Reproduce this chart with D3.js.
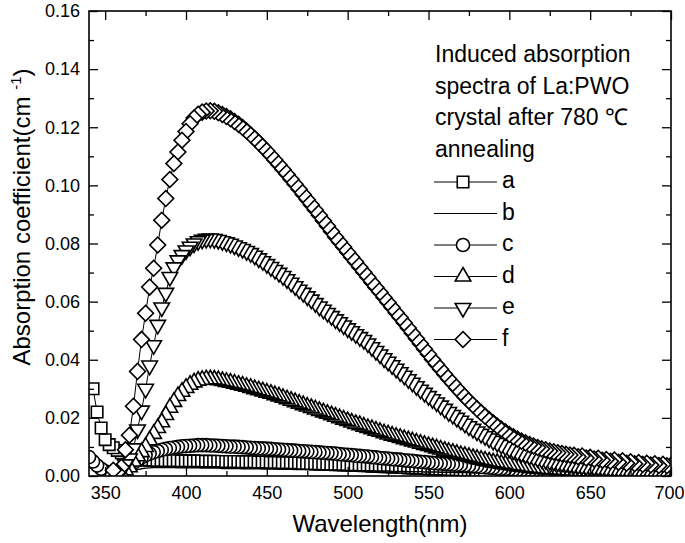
<!DOCTYPE html>
<html lang="en">
<head>
<meta charset="utf-8">
<title>Induced absorption spectra of La:PWO</title>
<script src="https://cdn.jsdelivr.net/npm/d3@7/dist/d3.min.js"></script>
<style>
  body { margin: 0; background: #fff; }
  text { font-family: "Liberation Sans", Arial, sans-serif; fill: #000; }
</style>
</head>
<body>
<div id="chart"></div>
<script>
// wavelength grid (nm)
const wavelengths = [
  340, 342.5, 345, 347.5, 350, 352.5, 355, 357.5,
  360, 362.5, 365, 367.5, 370, 372.5, 375, 377.5,
  380, 382.5, 385, 387.5, 390, 392.5, 395, 397.5,
  400, 402.5, 405, 407.5, 410, 412.5, 415, 417.5,
  420, 422.5, 425, 427.5, 430, 432.5, 435, 437.5,
  440, 442.5, 445, 447.5, 450, 452.5, 455, 457.5,
  460, 462.5, 465, 467.5, 470, 472.5, 475, 477.5,
  480, 482.5, 485, 487.5, 490, 492.5, 495, 497.5,
  500, 502.5, 505, 507.5, 510, 512.5, 515, 517.5,
  520, 522.5, 525, 527.5, 530, 532.5, 535, 537.5,
  540, 542.5, 545, 547.5, 550, 552.5, 555, 557.5,
  560, 562.5, 565, 567.5, 570, 572.5, 575, 577.5,
  580, 582.5, 585, 587.5, 590, 592.5, 595, 597.5,
  600, 602.5, 605, 607.5, 610, 612.5, 615, 617.5,
  620, 622.5, 625, 627.5, 630, 632.5, 635, 637.5,
  640, 642.5, 645, 647.5, 650, 652.5, 655, 657.5,
  660, 662.5, 665, 667.5, 670, 672.5, 675, 677.5,
  680, 682.5, 685, 687.5, 690, 692.5, 695, 697.5,
  700
];

// absorption coefficient (cm-1), same order as wavelengths
const seriesA = [
  null, 0.0300, 0.0220, 0.0165, 0.0125, 0.0108, 0.0097, 0.0088,
  0.0080, 0.0072, 0.0066, 0.0061, 0.0058, 0.0056, 0.0055, 0.0054,
  0.0054, 0.0053, 0.0053, 0.0053, 0.0053, 0.0052, 0.0052, 0.0052,
  0.0052, 0.0052, 0.0052, 0.0051, 0.0051, 0.0051, 0.0051, 0.0051,
  0.0050, 0.0050, 0.0050, 0.0050, 0.0049, 0.0049, 0.0049, 0.0049,
  0.0048, 0.0048, 0.0048, 0.0047, 0.0047, 0.0047, 0.0046, 0.0046,
  0.0046, 0.0045, 0.0045, 0.0044, 0.0044, 0.0043, 0.0043, 0.0042,
  0.0042, 0.0041, 0.0041, 0.0040, 0.0040, 0.0039, 0.0039, 0.0038,
  0.0038, 0.0037, 0.0037, 0.0036, 0.0035, 0.0035, 0.0034, 0.0034,
  0.0033, 0.0032, 0.0032, 0.0031, 0.0030, 0.0030, 0.0029, 0.0028,
  0.0028, 0.0027, 0.0026, 0.0026, 0.0025, 0.0024, 0.0024, 0.0023,
  0.0022, 0.0022, 0.0021, 0.0020, 0.0020, 0.0019, 0.0018, 0.0018
];

const seriesB = [
  null, null, null, null, null, null, null, null,
  null, 0.0005, 0.0012, 0.0018, 0.0022, 0.0025, 0.0027, 0.0028,
  0.0029, 0.0029, 0.0029, 0.0029, 0.0029, 0.0029, 0.0028, 0.0028,
  0.0028, 0.0028, 0.0028, 0.0028, 0.0027, 0.0027, 0.0027, 0.0027,
  0.0027, 0.0026, 0.0026, 0.0026, 0.0026, 0.0026, 0.0025, 0.0025,
  0.0025, 0.0025, 0.0025, 0.0024, 0.0024, 0.0024, 0.0024, 0.0023,
  0.0023, 0.0023, 0.0023, 0.0022, 0.0022, 0.0022, 0.0022, 0.0021,
  0.0021, 0.0021, 0.0021, 0.0020, 0.0020, 0.0020, 0.0020, 0.0019,
  0.0019, 0.0019, 0.0019, 0.0018, 0.0018, 0.0018, 0.0018, 0.0017,
  0.0017, 0.0017, 0.0017, 0.0016, 0.0016, 0.0016, 0.0016, 0.0015,
  0.0015, 0.0015, 0.0015, 0.0014, 0.0014, 0.0014, 0.0014, 0.0013,
  0.0013, 0.0013, 0.0013, 0.0012, 0.0012, 0.0012, 0.0012, 0.0011,
  0.0011, 0.0011, 0.0011, 0.0010, 0.0010, 0.0010, 0.0010, 0.0010
];

const seriesC = [
  0.0065, 0.0050, 0.0036, 0.0025, 0.0016, 0.0010, 0.0008, 0.0010,
  0.0015, 0.0024, 0.0034, 0.0045, 0.0055, 0.0064, 0.0071, 0.0077,
  0.0082, 0.0086, 0.0090, 0.0093, 0.0096, 0.0098, 0.0100, 0.0102,
  0.0103, 0.0104, 0.0105, 0.0106, 0.0106, 0.0106, 0.0105, 0.0105,
  0.0104, 0.0103, 0.0102, 0.0101, 0.0101, 0.0100, 0.0099, 0.0098,
  0.0097, 0.0096, 0.0095, 0.0095, 0.0094, 0.0093, 0.0092, 0.0091,
  0.0090, 0.0089, 0.0088, 0.0087, 0.0086, 0.0085, 0.0084, 0.0083,
  0.0082, 0.0081, 0.0080, 0.0079, 0.0078, 0.0077, 0.0075, 0.0074,
  0.0073, 0.0072, 0.0070, 0.0069, 0.0068, 0.0067, 0.0065, 0.0064,
  0.0062, 0.0061, 0.0060, 0.0058, 0.0057, 0.0056, 0.0054, 0.0053,
  0.0052, 0.0050, 0.0049, 0.0048, 0.0046, 0.0045, 0.0044, 0.0043,
  0.0042, 0.0041, 0.0040, 0.0039, 0.0038, 0.0036, 0.0035, 0.0034,
  0.0033, 0.0031, 0.0030, 0.0029, 0.0028, 0.0026, 0.0025, 0.0024,
  0.0023, 0.0022, 0.0021, 0.0020, 0.0019, 0.0018, 0.0017, 0.0016
];

const seriesD = [
  null, null, null, null, null, null, null, null,
  0.0010, 0.0020, 0.0030, 0.0050, 0.0068, 0.0082, 0.0100, 0.0123,
  0.0145, 0.0165, 0.0185, 0.0210, 0.0235, 0.0255, 0.0275, 0.0290,
  0.0303, 0.0314, 0.0322, 0.0328, 0.0331, 0.0333, 0.0333, 0.0332,
  0.0330, 0.0327, 0.0324, 0.0321, 0.0318, 0.0314, 0.0311, 0.0307,
  0.0303, 0.0299, 0.0295, 0.0291, 0.0287, 0.0283, 0.0278, 0.0274,
  0.0269, 0.0264, 0.0259, 0.0254, 0.0249, 0.0244, 0.0239, 0.0234,
  0.0229, 0.0224, 0.0219, 0.0214, 0.0209, 0.0204, 0.0199, 0.0194,
  0.0189, 0.0184, 0.0179, 0.0175, 0.0170, 0.0165, 0.0161, 0.0156,
  0.0152, 0.0147, 0.0143, 0.0139, 0.0135, 0.0131, 0.0127, 0.0123,
  0.0119, 0.0115, 0.0111, 0.0107, 0.0103, 0.0099, 0.0095, 0.0091,
  0.0087, 0.0083, 0.0080, 0.0076, 0.0072, 0.0069, 0.0066, 0.0062,
  0.0059, 0.0056, 0.0053, 0.0050, 0.0047, 0.0045, 0.0042, 0.0040,
  0.0038, 0.0036, 0.0034, 0.0032, 0.0030, 0.0028, 0.0027, 0.0025,
  0.0024, 0.0023, 0.0022, 0.0021, 0.0020, 0.0019, 0.0018, 0.0017,
  0.0016, 0.0016, 0.0015, 0.0015, 0.0014, 0.0014, 0.0013, 0.0013,
  0.0012, 0.0012, 0.0012, 0.0011, 0.0011, 0.0011, 0.0010, 0.0010,
  0.0010, 0.0010, 0.0009, 0.0009, 0.0009, 0.0009, 0.0008, 0.0008,
  0.0008
];

const seriesE = [
  null, null, null, null, null, null, null, null,
  0.0020, 0.0040, 0.0060, 0.0095, 0.0160, 0.0225, 0.0300, 0.0380,
  0.0450, 0.0520, 0.0580, 0.0630, 0.0685, 0.0718, 0.0742, 0.0760,
  0.0776, 0.0789, 0.0800, 0.0808, 0.0813, 0.0816, 0.0817, 0.0815,
  0.0812, 0.0808, 0.0804, 0.0799, 0.0793, 0.0787, 0.0781, 0.0774,
  0.0767, 0.0758, 0.0749, 0.0739, 0.0729, 0.0719, 0.0709, 0.0699,
  0.0688, 0.0677, 0.0665, 0.0653, 0.0641, 0.0630, 0.0618, 0.0607,
  0.0595, 0.0583, 0.0572, 0.0561, 0.0550, 0.0539, 0.0529, 0.0518,
  0.0508, 0.0498, 0.0488, 0.0478, 0.0468, 0.0456, 0.0443, 0.0430,
  0.0418, 0.0405, 0.0393, 0.0381, 0.0369, 0.0357, 0.0345, 0.0333,
  0.0321, 0.0309, 0.0297, 0.0286, 0.0275, 0.0264, 0.0253, 0.0242,
  0.0231, 0.0220, 0.0210, 0.0200, 0.0190, 0.0180, 0.0171, 0.0162,
  0.0153, 0.0145, 0.0137, 0.0129, 0.0121, 0.0114, 0.0107, 0.0101,
  0.0095, 0.0089, 0.0084, 0.0079, 0.0074, 0.0069, 0.0065, 0.0061,
  0.0058, 0.0055, 0.0052, 0.0049, 0.0047, 0.0045, 0.0043, 0.0041,
  0.0039, 0.0037, 0.0036, 0.0034, 0.0033, 0.0032, 0.0031, 0.0030,
  0.0029, 0.0028, 0.0027, 0.0026, 0.0026, 0.0025, 0.0024, 0.0024,
  0.0023, 0.0023, 0.0022, 0.0022, 0.0021, 0.0021, 0.0020, 0.0020,
  0.0019
];

const seriesF = [
  null, null, null, null, null, null, 0.0020, 0.0012,
  0.0030, 0.0090, 0.0140, 0.0240, 0.0360, 0.0470, 0.0560, 0.0650,
  0.0715, 0.0795, 0.0880, 0.0955, 0.1020, 0.1075, 0.1115, 0.1155,
  0.1185, 0.1212, 0.1232, 0.1245, 0.1252, 0.1256, 0.1257, 0.1255,
  0.1250, 0.1244, 0.1237, 0.1229, 0.1220, 0.1210, 0.1199, 0.1187,
  0.1174, 0.1161, 0.1147, 0.1133, 0.1118, 0.1103, 0.1087, 0.1071,
  0.1055, 0.1038, 0.1021, 0.1004, 0.0987, 0.0969, 0.0951, 0.0933,
  0.0915, 0.0897, 0.0878, 0.0860, 0.0841, 0.0822, 0.0805, 0.0788,
  0.0770, 0.0753, 0.0736, 0.0718, 0.0701, 0.0684, 0.0666, 0.0649,
  0.0632, 0.0614, 0.0597, 0.0580, 0.0562, 0.0545, 0.0527, 0.0509,
  0.0491, 0.0473, 0.0455, 0.0437, 0.0419, 0.0401, 0.0384, 0.0367,
  0.0350, 0.0334, 0.0318, 0.0302, 0.0287, 0.0272, 0.0258, 0.0244,
  0.0231, 0.0218, 0.0206, 0.0194, 0.0183, 0.0172, 0.0162, 0.0152,
  0.0143, 0.0135, 0.0127, 0.0120, 0.0114, 0.0108, 0.0103, 0.0098,
  0.0094, 0.0090, 0.0086, 0.0083, 0.0080, 0.0077, 0.0075, 0.0072,
  0.0071, 0.0066, 0.0069, 0.0062, 0.0064, 0.0058, 0.0061, 0.0054,
  0.0057, 0.0051, 0.0055, 0.0047, 0.0052, 0.0044, 0.0049, 0.0042,
  0.0046, 0.0040, 0.0044, 0.0038, 0.0042, 0.0036, 0.0040, 0.0035,
  0.0037
];

const seriesNames = ["a", "b", "c", "d", "e", "f"];
const seriesValues = [seriesA, seriesB, seriesC, seriesD, seriesE, seriesF];

const xTicks = [350, 400, 450, 500, 550, 600, 650, 700];
const xMinorTicks = [375, 425, 475, 525, 575, 625, 675];
const yTicks = [0, 0.02, 0.04, 0.06, 0.08, 0.10, 0.12, 0.14, 0.16];
const yMinorTicks = [0.01, 0.03, 0.05, 0.07, 0.09, 0.11, 0.13, 0.15];

const titleLines = ["Induced absorption", "spectra of La:PWO", "crystal after 780 \u2103", "annealing"];

//Width and height
var w = 685;
var h = 543;
var plotL = 89, plotR = 671, plotT = 11, plotB = 476;

var svg = d3.select("#chart")
  .append("svg")
  .attr("width", w)
  .attr("height", h);

var x = d3.scaleLinear().domain([340, 700]).range([plotL, plotR]);
var y = d3.scaleLinear().domain([0, 0.16]).range([plotB, plotT]);

// marker shapes
var markers = {
  a: { type: d3.symbolSquare, size: 132, rotate: 0 },
  c: { type: d3.symbolCircle, size: 135, rotate: 0 },
  d: { type: d3.symbolTriangle, size: 105, rotate: 0 },
  e: { type: d3.symbolTriangle, size: 105, rotate: 180 },
  f: { type: d3.symbolSquare, size: 125, rotate: 45 }
};

svg.append("clipPath")
  .attr("id", "plotclip")
  .append("rect")
  .attr("x", plotL).attr("y", plotT)
  .attr("width", plotR - plotL).attr("height", plotB - plotT);

var plot = svg.append("g").attr("clip-path", "url(#plotclip)");

var line = d3.line()
  .defined(d => d.v != null)
  .x(d => x(d.w))
  .y(d => y(d.v));

seriesNames.forEach(function(name, k) {
  var pts = wavelengths.map((wl, i) => ({ w: wl, v: seriesValues[k][i] }))
    .filter(d => d.v != null);

  plot.append("path")
    .datum(pts)
    .attr("d", line)
    .attr("fill", "none")
    .attr("stroke", "#000")
    .attr("stroke-width", name == "b" ? 1.4 : 1);

  var m = markers[name];
  if (!m) return;
  var sym = d3.symbol().type(m.type).size(m.size);
  // scan runs from long to short wavelength, so draw right to left
  plot.append("g")
    .selectAll("path")
    .data(pts.slice().reverse())
    .enter()
    .append("path")
    .attr("d", sym)
    .attr("transform", d => "translate(" + x(d.w) + "," + y(d.v) + ") rotate(" + m.rotate + ")")
    .attr("fill", "#fff")
    .attr("stroke", "#000")
    .attr("stroke-width", 1.6);
});

// frame
svg.append("rect")
  .attr("x", plotL).attr("y", plotT)
  .attr("width", plotR - plotL).attr("height", plotB - plotT)
  .attr("fill", "none")
  .attr("stroke", "#000")
  .attr("stroke-width", 1.6);

// axes, ticks pointing inward
function styleAxis(g) {
  g.select(".domain").remove();
  g.selectAll("line").attr("stroke", "#000").attr("stroke-width", 1.3);
  g.selectAll("text")
    .style("font-family", '"Liberation Sans", Arial, sans-serif')
    .style("font-size", "18px");
}

svg.append("g")
  .attr("transform", "translate(0," + plotB + ")")
  .call(d3.axisBottom(x).tickValues(xTicks).tickSize(-9).tickSizeOuter(0).tickPadding(10).tickFormat(d3.format("d")))
  .call(styleAxis)
  .selectAll("text")
  .attr("dx", d => d == 700 ? -2 : 0);
svg.append("g")
  .attr("transform", "translate(0," + plotB + ")")
  .call(d3.axisBottom(x).tickValues(xMinorTicks).tickSize(-5).tickSizeOuter(0).tickFormat(""))
  .call(styleAxis);
svg.append("g")
  .attr("transform", "translate(0," + plotT + ")")
  .call(d3.axisTop(x).tickValues(xTicks).tickSize(-9).tickSizeOuter(0).tickFormat(""))
  .call(styleAxis);
svg.append("g")
  .attr("transform", "translate(0," + plotT + ")")
  .call(d3.axisTop(x).tickValues(xMinorTicks).tickSize(-5).tickSizeOuter(0).tickFormat(""))
  .call(styleAxis);

svg.append("g")
  .attr("transform", "translate(" + plotL + ",0)")
  .call(d3.axisLeft(y).tickValues(yTicks).tickSize(-9).tickSizeOuter(0).tickPadding(9).tickFormat(d3.format(".2f")))
  .call(styleAxis);
svg.append("g")
  .attr("transform", "translate(" + plotL + ",0)")
  .call(d3.axisLeft(y).tickValues(yMinorTicks).tickSize(-5).tickSizeOuter(0).tickFormat(""))
  .call(styleAxis);
svg.append("g")
  .attr("transform", "translate(" + plotR + ",0)")
  .call(d3.axisRight(y).tickValues(yTicks).tickSize(-9).tickSizeOuter(0).tickFormat(""))
  .call(styleAxis);
svg.append("g")
  .attr("transform", "translate(" + plotR + ",0)")
  .call(d3.axisRight(y).tickValues(yMinorTicks).tickSize(-5).tickSizeOuter(0).tickFormat(""))
  .call(styleAxis);

// axis titles
svg.append("text")
  .attr("x", (plotL + plotR) / 2)
  .attr("y", 532)
  .attr("text-anchor", "middle")
  .style("font-size", "24px")
  .text("Wavelength(nm)");

var yt = svg.append("text")
  .attr("transform", "translate(30,217) rotate(-90)")
  .attr("text-anchor", "middle")
  .style("font-size", "24px");
yt.append("tspan").text("Absorption coefficient(cm ");
yt.append("tspan").attr("dy", -9).style("font-size", "15px").text("-1");
yt.append("tspan").attr("dy", 9).text(")");

// legend
var legend = svg.append("g");
legend.selectAll("text.title")
  .data(titleLines)
  .enter()
  .append("text")
  .attr("class", "title")
  .attr("x", 435)
  .attr("y", (d, i) => 62 + i * 31.5)
  .style("font-size", "23px")
  .text(d => d);

seriesNames.forEach(function(name, k) {
  var yy = 188 + k * 31.5;
  var cy = yy - 6;
  legend.append("line")
    .attr("x1", 434).attr("x2", 497)
    .attr("y1", cy).attr("y2", cy)
    .attr("stroke", "#000").attr("stroke-width", 1);
  var m = markers[name];
  if (m) {
    legend.append("path")
      .attr("d", d3.symbol().type(m.type).size(m.size))
      .attr("transform", "translate(463," + cy + ") rotate(" + m.rotate + ")")
      .attr("fill", "#fff")
      .attr("stroke", "#000")
      .attr("stroke-width", 1.6);
  }
  legend.append("text")
    .attr("x", 502)
    .attr("y", yy)
    .style("font-size", "23px")
    .text(name);
});
</script>
</body>
</html>
